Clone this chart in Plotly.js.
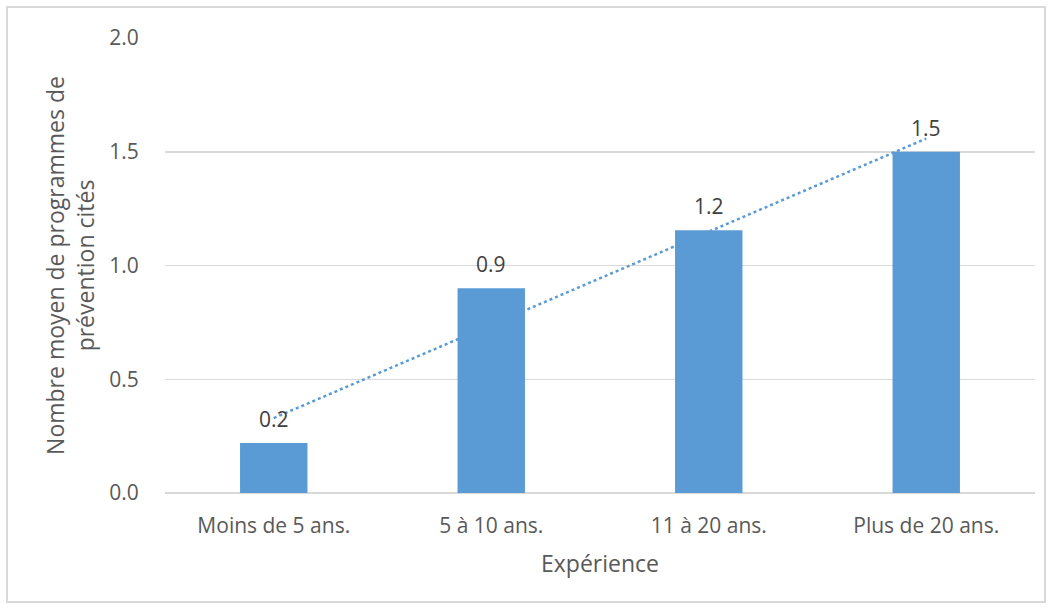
<!DOCTYPE html>
<html>
<head>
<meta charset="utf-8">
<script src="https://cdn.plot.ly/plotly-3.0.1.min.js"></script>
<style>
  body { margin: 0; background: #fff; }
  #wrap { position: relative; width: 1056px; height: 610px; }
  #chart { width: 1056px; height: 610px; }
  #frame { position: absolute; left: 6px; top: 6px; width: 1040px; height: 597px;
           border: 2px solid #d9d9d9; pointer-events: none; box-sizing: border-box; }
</style>
</head>
<body>
<div id="wrap"><div id="chart"></div><div id="frame"></div></div>
<script>
const categories = ["Moins de 5 ans.", "5 à 10 ans.", "11 à 20 ans.", "Plus de 20 ans."];
const values = [0.22, 0.9, 1.155, 1.5];
const yTicks = [0, 0.5, 1.0, 1.5, 2.0];
const yTickLabels = ["0.0", "0.5", "1.0", "1.5", "2.0"];

// Linear trendline (least squares) computed from the bar values
const n = values.length;
const xs = values.map((_, i) => i);
const mx = xs.reduce((a, b) => a + b, 0) / n;
const my = values.reduce((a, b) => a + b, 0) / n;
let num = 0, den = 0;
for (let i = 0; i < n; i++) { num += (xs[i] - mx) * (values[i] - my); den += (xs[i] - mx) ** 2; }
const slope = num / den, intercept = my - slope * mx;
const trendY = xs.map(x => intercept + slope * x);

const blue = "#5B9BD5";
const font = "Open Sans, Noto Sans, sans-serif";

const traces = [
  { type: "scatter", mode: "lines", x: categories, y: trendY,
    line: { color: blue, width: 2.5, dash: "dot" }, hoverinfo: "skip",
    xaxis: "x", yaxis: "y" },
  { type: "bar", x: categories, y: values, marker: { color: blue },
    xaxis: "x2", yaxis: "y2" }
];

const annotations = categories.map((c, i) => ({
  x: c, y: values[i], xref: "x2", yref: "y2", text: values[i].toFixed(1),
  showarrow: false, yanchor: "bottom", yshift: 8,
  font: { family: font, size: 21, color: "#404040" }
}));

const layout = {
  width: 1056, height: 610,
  margin: { l: 165, r: 21, t: 38, b: 117 },
  paper_bgcolor: "#fff", plot_bgcolor: "#fff",
  showlegend: false,
  bargap: 0.69,
  font: { family: font, color: "#595959", size: 21 },
  xaxis: {
    type: "category", range: [-0.5, 3.5],
    showgrid: false, zeroline: false, showline: false,
    ticks: "outside", ticklen: 14, tickcolor: "rgba(0,0,0,0)",
    tickfont: { family: font, size: 21, color: "#595959" },
    title: { text: "Expérience", font: { family: font, size: 23, color: "#595959" }, standoff: 17 }
  },
  xaxis2: { type: "category", range: [-0.5, 3.5], overlaying: "x", visible: false },
  yaxis: {
    range: [0, 2], tickvals: yTicks, ticktext: yTickLabels,
    showgrid: true, gridcolor: "#d9d9d9", gridwidth: 1.5,
    zeroline: true, zerolinecolor: "#d9d9d9", zerolinewidth: 1.5,
    showline: false,
    ticks: "outside", ticklen: 21, tickcolor: "rgba(0,0,0,0)",
    tickfont: { family: font, size: 21, color: "#595959" },
    title: { text: "Nombre moyen de programmes de<br>prévention cités",
             font: { family: font, size: 23, color: "#595959" }, standoff: 8 }
  },
  yaxis2: { range: [0, 2], overlaying: "y", visible: false },
  annotations: annotations
};

Plotly.newPlot("chart", traces, layout, { displayModeBar: false, staticPlot: true });
</script>
</body>
</html>
